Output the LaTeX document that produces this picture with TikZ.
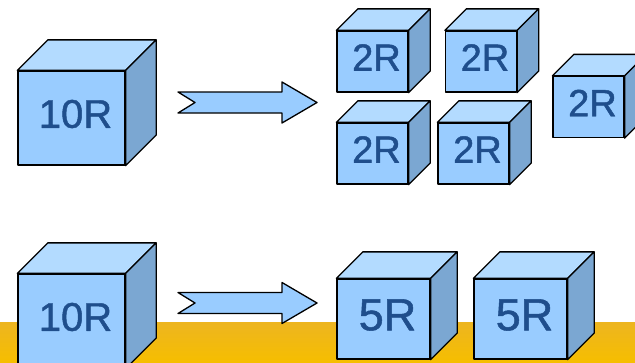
\documentclass[tikz,border=0pt]{standalone}
\usepackage{fontspec}
\setmainfont{Liberation Sans}[AutoFakeBold=1.2]
\definecolor{frontblue}{HTML}{99CCFF}
\definecolor{topblue}{HTML}{B3DBFF}
\definecolor{sideblue}{HTML}{7BA7D2}
\definecolor{labelblue}{HTML}{1F4E8C}
\definecolor{bandtop}{HTML}{EDB520}
\definecolor{bandbot}{HTML}{F6BE00}
\tikzset{
  front/.style={draw=black, line width=1.3pt, fill=frontblue, rectangle, inner sep=0pt},
  topface/.style={draw=black, line width=1.3pt, fill=topblue},
  sideface/.style={draw=black, line width=1.3pt, fill=sideblue},
  cubetext/.style={text=labelblue, inner sep=0pt},
  bigcube/.style={minimum width=107pt, minimum height=94pt, font=\fontsize{40}{40}\selectfont\bfseries},
  smallcube/.style={minimum width=71pt, minimum height=61pt, font=\fontsize{38}{38}\selectfont\bfseries},
  midcube/.style={minimum width=93pt, minimum height=80pt, font=\fontsize{45}{45}\selectfont\bfseries},
  arrowbody/.style={draw=black, line width=1.3pt, fill=frontblue}
}
% cube: style, name, front centre, depth, label
\newcommand{\cube}[5]{%
  \node[front,#1] (#2) at (#3) {};
  \node[cubetext,#1,minimum width=0pt,minimum height=0pt] (#2-text) at ([shift={(4,-4)}]#2.center) {#5};
  \filldraw[topface] (#2.north west) -- ([shift={(#4,-#4)}]#2.north west) -- ([shift={(#4,-#4)}]#2.north east) -- (#2.north east) -- cycle;
  \filldraw[sideface] (#2.north east) -- ([shift={(#4,-#4)}]#2.north east) -- ([shift={(#4,-#4)}]#2.south east) -- (#2.south east) -- cycle;
}
% block arrow starting at its notched tail
\newcommand{\blockarrow}[1]{%
  \filldraw[arrowbody] (#1) ++(0,-10.5) -- ++(104,0) -- ++(0,-10) -- ++(35,20.5) -- ++(-35,20.5) -- ++(0,-10) -- ++(-104,0) -- ++(17,-10.5) -- cycle;
}
\begin{document}
\begin{tikzpicture}[x=1pt, y=-1pt, line join=round, line cap=round, >=stealth]
  \useasboundingbox (0,0) rectangle (635,362);
  \clip (0,0) rectangle (635,362);
  % yellow strip at the bottom
  \shade[top color=bandtop, bottom color=bandbot] (0,322) rectangle (635,362);
  % 10R -> five 2R
  \cube{bigcube}{whole1}{71.5,118}{30.5}{10R}
  \coordinate (split) at (178,102.5);
  \blockarrow{split}
  \cube{smallcube}{partA}{372.5,61.5}{21.5}{2R}
  \cube{smallcube}{partB}{481,61.5}{21.5}{2R}
  \cube{smallcube}{partC}{588.5,107}{21.5}{2R}
  \cube{smallcube}{partD}{372.5,153.5}{21.5}{2R}
  \cube{smallcube}{partE}{473.5,153.5}{21.5}{2R}
  % 10R -> two 5R
  \cube{bigcube}{whole2}{71.5,321}{30.5}{10R}
  \coordinate (halve) at (178,303);
  \blockarrow{halve}
  \cube{midcube}{halfA}{383.5,319}{26.5}{5R}
  \cube{midcube}{halfB}{520.5,319}{26.5}{5R}
\end{tikzpicture}
\end{document}
